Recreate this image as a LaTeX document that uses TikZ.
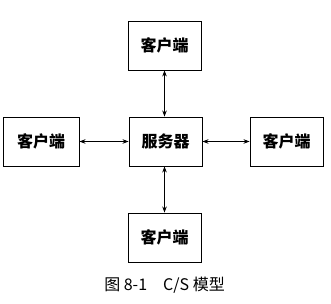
\documentclass[tikz,border=0pt]{standalone}
\usepackage{fontspec}
\newfontfamily\cjk{Noto Sans CJK SC}
\usetikzlibrary{arrows.meta}
\tikzset{
  box/.style={draw, line width=0.9pt, minimum width=73pt, minimum height=49pt, inner sep=0pt, font=\cjk\bfseries\fontsize{16}{18}\selectfont},
  link/.style={{Stealth[length=6pt,width=4.5pt]}-{Stealth[length=6pt,width=4.5pt]}, line width=0.7pt}
}
\begin{document}
\begin{tikzpicture}[x=1pt,y=1pt]
            \useasboundingbox (0,0) rectangle (331,304);

            \node[box] (server) at (165.5,162.5) {服务器};
            \node[box] (top) at (164.5,258.5) {客户端};
            \node[box] (bottom) at (164.5,66.5) {客户端};
            \node[box, minimum width=76pt] (left) at (41,162.5) {客户端};
            \node[box] (right) at (286.5,162.5) {客户端};

            \draw[link] (top.south) -- (top.south |- server.north);
            \draw[link] (bottom.north) -- (bottom.north |- server.south);
            \draw[link] (left.east) -- (server.west);
            \draw[link] (server.east) -- (right.west);

            \node[font=\cjk\fontsize{16}{18}\selectfont] (caption) at (164.5,19) {图\ 8-1\quad C/S\ 模型};
\end{tikzpicture}
\end{document}
